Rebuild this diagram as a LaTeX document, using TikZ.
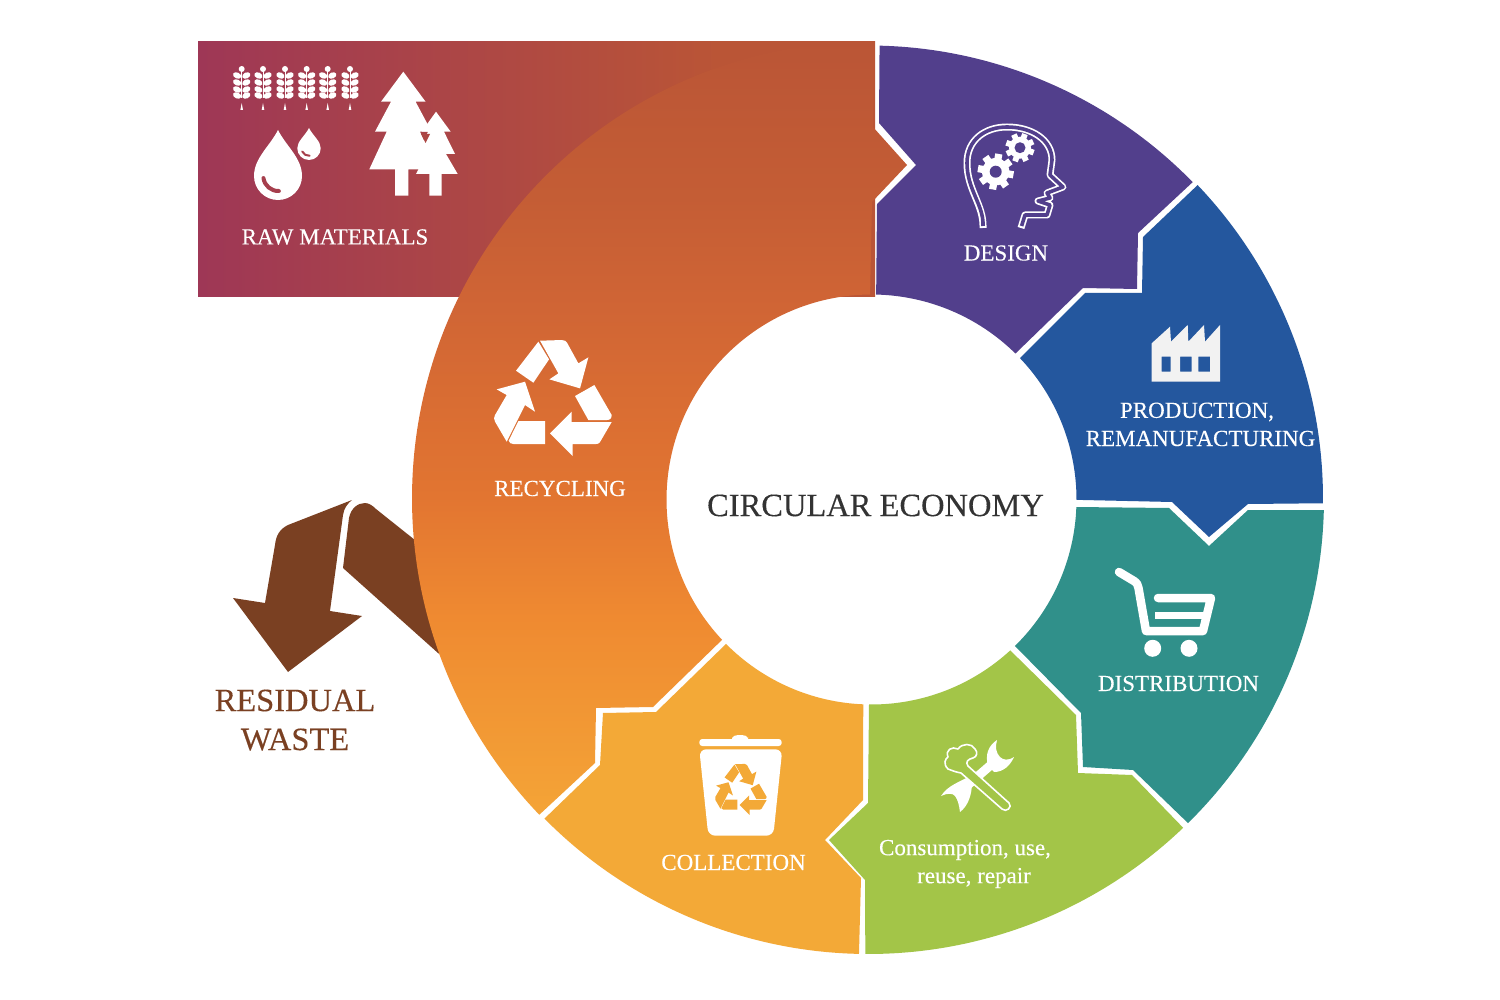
\documentclass[tikz,border=0pt]{standalone}
\usepackage{fontspec}
\setmainfont{Liberation Serif}
\newfontfamily\labfont[FakeBold=0.25]{Liberation Serif}
\usetikzlibrary{calc}
\definecolor{rawL}{HTML}{9E3756}
\definecolor{rawR}{HTML}{BA5536}
\definecolor{recA}{HTML}{BA5536}
\definecolor{recAb}{HTML}{C45D35}
\definecolor{recB}{HTML}{CF6435}
\definecolor{recC}{HTML}{E27531}
\definecolor{recD}{HTML}{EF8A31}
\definecolor{recE}{HTML}{F4A437}
\definecolor{designC}{HTML}{523F8C}
\definecolor{blueC}{HTML}{24579E}
\definecolor{tealC}{HTML}{30908A}
\definecolor{greenC}{HTML}{A3C548}
\definecolor{collC}{HTML}{F3A937}
\definecolor{brownC}{HTML}{7A4022}
\definecolor{inkC}{HTML}{333333}
\pgfdeclareverticalshading{recshade}{100bp}{color(0bp)=(recE);color(25bp)=(recE);color(37.7bp)=(recD);color(45.5bp)=(recC);color(58.4bp)=(recB);color(64.8bp)=(recAb);color(75bp)=(recA);color(100bp)=(recA)}
\pgfdeclarehorizontalshading{rawshade}{100bp}{color(0bp)=(rawL);color(25bp)=(rawL);color(63.5bp)=(rawR);color(100bp)=(rawR)}
\tikzset{
  lab/.style={text=white,font=\labfont\fontsize{23}{27}\selectfont,inner sep=0pt,align=center},
  blab/.style={text=brownC,font=\labfont\fontsize{32.5}{38}\selectfont,inner sep=0pt},
}
\newcommand{\ROut}{456.5pt}
\newcommand{\RIn}{205pt}
\newcommand{\mygear}[5]{%
  \foreach \ga in {0,45,...,135}{\fill[white,shift={(#1,#2)},rotate=\ga+#5] (-#3*0.2,-#3) rectangle (#3*0.2,#3);}
  \fill[white] (#1,#2) circle[radius=#3*0.76];
  \fill[designC] (#1,#2) circle[radius=#4];}
\newcommand{\recsym}[4]{%
  \begin{scope}[shift={(#1,#2)},scale=#3/3,shift={(-248,-233)}]
  \fill[#4] (205,65) -- (237,118) -- (190,188) -- (138,152) -- cycle;
  \fill[#4] (210,62) -- (275,60) .. controls (283,60) and (288,63) .. (291,68) -- (325,130) -- (355,112) -- (330,205) -- (238,178) -- (265,160) -- cycle;
  \fill[#4] (315,228) -- (373,195) -- (425,285) .. controls (425,295) and (420,300) .. (410,300) -- (355,300) -- cycle;
  \fill[#4] (425,306) -- (390,366) .. controls (387,371) and (383,372) .. (378,372) -- (308,372) -- (308,408) -- (240,340) -- (305,275) -- (305,306) -- cycle;
  \fill[#4] (145,303) -- (225,303) -- (225,372) -- (130,372) .. controls (122,372) and (118,368) .. (116,362) -- cycle;
  \fill[#4] (110,365) -- (75,305) .. controls (71,297) and (71,292) .. (75,285) -- (110,225) -- (80,208) -- (165,185) -- (195,275) -- (165,255) -- cycle;
  \end{scope}}
\begin{document}
\begin{tikzpicture}[yscale=-1,x=1pt,y=1pt]
\useasboundingbox (0,0) rectangle (1500,1000);
\fill[white] (0,0) rectangle (1500,1000);
\coordinate (O) at (868.5,498.5);
\coordinate (I) at (871.5,499.5);
% raw materials panel
\shade[shading=rawshade] (198,42) rectangle (875,297);
% residual waste band and arrow
\fill[brownC] (343,568) -- (349,518) .. controls (351,508) and (358,503) .. (365,503) .. controls (369,503) and (373,506) .. (376,509) -- (440,560) -- (450,662) -- (438,653) -- cycle;
\fill[brownC] (352,500) -- (288,525) .. controls (280,529) and (276,535) .. (275,545) -- (265,603) -- (233,598) -- (288,672) -- (362,616) -- (330,611) -- (343,515) .. controls (344,508) and (348,503) .. (352,500) -- cycle;
% recycling
\shade[shading=recshade] ($(O)+(270.7:\ROut)$) arc[start angle=270.7,end angle=136.15,radius=\ROut] -- (595,763) -- (596,708) -- (653,707) -- ($(I)+(136.8:\RIn)$) arc[start angle=136.8,end angle=269.6,radius=\RIn] -- (872,202) -- (907,165) -- (873,127) -- cycle;
% design
\fill[designC] ($(O)+(-88.6:453pt)$) arc[start angle=-88.6,end angle=-44.3,radius=453pt] -- (1138,233) -- (1137,289) -- (1083,288) -- ($(I)+(-45.4:\RIn)$) arc[start angle=-45.4,end angle=-88.7,radius=\RIn] -- (877,204) -- (916,165) -- (879,123) -- cycle;
% production
\fill[blueC] ($(O)+(-43.6:454.5pt)$) arc[start angle=-43.6,end angle=0.6,radius=454.5pt] -- (1248,504) -- (1209,537) -- (1172,502) -- ($(I)+(0.1:\RIn)$) arc[start angle=0.1,end angle=-43.6,radius=\RIn] -- (1085,293) -- (1142,293) -- (1143,237) -- cycle;
% distribution
\fill[tealC] ($(O)+(1.45:455.5pt)$) arc[start angle=1.45,end angle=45.45,radius=455.5pt] -- (1133,770) -- (1083,767) -- (1081,713) -- ($(I)+(45.6:\RIn)$) arc[start angle=45.6,end angle=2.1,radius=\RIn] -- (1169,508) -- (1209,546) -- (1248,510) -- cycle;
% consumption
\fill[greenC] ($(O)+(46.3:455.5pt)$) arc[start angle=46.3,end angle=90.4,radius=455.5pt] -- (865,880) -- (829,840) -- (868,803) -- ($(I)+(90.7:\RIn)$) arc[start angle=90.7,end angle=47.4,radius=\RIn] -- (1076,715) -- (1078,773) -- (1132,775) -- cycle;
% collection
\fill[collC] ($(O)+(91.2:455.5pt)$) arc[start angle=91.2,end angle=135.35,radius=455.5pt] -- (600,765) -- (603,713) -- (656,712) -- ($(I)+(135.2:\RIn)$) arc[start angle=135.2,end angle=92.3,radius=\RIn] -- (863,800) -- (825,840) -- (861,878) -- (859,953) -- cycle;
% wheat
\foreach \wx in {241.7,263,285,306.7,327.7,350}{
  \fill[white] (\wx,69) circle[radius=3];
  \draw[white,line width=1pt] (\wx,70) -- (\wx,98);
  \foreach \wy in {75.5,82.5,89.5,95.5}{
    \fill[white,shift={(\wx-4.6,\wy)},rotate=25] (0,0) ellipse[x radius=4.3,y radius=3];
    \fill[white,shift={(\wx+4.6,\wy)},rotate=-25] (0,0) ellipse[x radius=4.3,y radius=3];
  }
  \fill[white] (\wx-1.3,110) -- (\wx,103) -- (\wx+1.3,110) -- cycle;
}
% drops
\fill[white] (278,130) .. controls (270,146) and (254,158) .. (254,176) arc[start angle=180,end angle=0,radius=24] .. controls (302,158) and (286,146) .. (278,130) -- cycle;
\draw[rawL!72!rawR,line width=4pt,line cap=round] (278.3,176) ++(172:15) arc[start angle=172,end angle=88,radius=15];
\fill[white] (309,128) .. controls (305,136) and (297.3,141) .. (297.3,148.3) arc[start angle=180,end angle=0,radius=11.7] .. controls (320.7,141) and (313,136) .. (309,128) -- cycle;
\draw[rawL!70!rawR,line width=2pt,line cap=round] (309,148.3) ++(155:7.5) arc[start angle=155,end angle=85,radius=7.5];
% trees
\fill[white] (403.3,71.7) -- (425.6,101.7) -- (415.6,101.7) -- (431.6,131.7) -- (420,131.7) -- (437.3,169.3) -- (408.3,169.3) -- (408.3,195.7) -- (395,195.7) -- (395,169.3) -- (369.3,169.3) -- (386.7,131.7) -- (375,131.7) -- (391,101.7) -- (381,101.7) -- cycle;
\fill[white] (436,111.7) -- (450.7,131.7) -- (444,131.7) -- (455,154) -- (446,154) -- (457.7,174) -- (441.7,174) -- (441.7,195.7) -- (429.3,195.7) -- (429.3,174) -- (416,174) -- (426,154) -- (418,154) -- (428,131.7) -- (421.7,131.7) -- cycle;
\fill[rawL!45!rawR] (421,134) -- (430,134) -- (425.5,143) -- cycle;
% head
\draw[white,line width=7pt,line join=round] (983,228) .. controls (984,205) and (967,190) .. (967,163) .. controls (967,140) and (985,127) .. (1007,127) .. controls (1032,127) and (1052,140) .. (1052,160) -- (1050,175) -- (1063,187) -- (1047,193) -- (1050,198) -- (1038,201) -- (1050,205) -- (1047,215) -- (1025,215) -- (1021,228);
\draw[designC,line width=3.6pt,line join=round] (983,226) .. controls (984,205) and (967,190) .. (967,163) .. controls (967,140) and (985,127) .. (1007,127) .. controls (1032,127) and (1052,140) .. (1052,160) -- (1050,175) -- (1063,187) -- (1047,193) -- (1050,198) -- (1038,201) -- (1050,205) -- (1047,215) -- (1025,215) -- (1021.6,226);
\mygear{995.7}{171.7}{18}{6}{10}
\mygear{1020}{147.7}{14.5}{5.5}{20}
% factory
\fill[white!95!black,even odd rule] (1151.7,381.7) -- (1220,381.7) -- (1220,325) -- (1205,341.7) -- (1204,325) -- (1188.3,341.7) -- (1187.7,325) -- (1171,341.7) -- (1170,326.7) -- (1151.7,343.3) -- cycle
 (1161.7,356.7) rectangle (1170.7,371.7) (1180,356.7) rectangle (1191.7,371.7) (1198.3,356.7) rectangle (1210,371.7);
% cart
\draw[white,line width=8.5pt,line cap=round,line join=round] (1119,572) -- (1134,581) .. controls (1137,583) and (1138,585) .. (1138.5,588) -- (1146,631) -- (1203,631) -- (1211,598) -- (1158,598);
\draw[white,line width=7.5pt] (1155,615.5) -- (1205,615.5);
\fill[white] (1152.7,648.3) circle[radius=8.5] (1189,648.3) circle[radius=8.5];
% tools
\draw[white,line width=9pt] (962,790) -- (992,764);
\fill[white] (997,740) .. controls (988,746) and (985,755) .. (988,766) -- (994,772) .. controls (1003,772) and (1010,766) .. (1014,757) .. controls (1008,761) and (1003,760) .. (1000,757) .. controls (996,753) and (995,747) .. (997,740) -- cycle;
\fill[white] (970,776) .. controls (960,782) and (948,785) .. (941,796) .. controls (947,793) and (953,793) .. (955,796) .. controls (958,800) and (959,805) .. (960,812) .. controls (968,806) and (972,795) .. (972,782) -- cycle;
\draw[white,line width=1.6pt,fill=greenC,line join=round] (968,766) -- (1009,803) .. controls (1013,807) and (1006,813) .. (1002,809) -- (961,773) .. controls (955,772) and (951,770) .. (948,769) .. controls (943,764) and (945,759) .. (948,757) .. controls (945,750) and (952,746) .. (958,749) .. controls (962,743) and (972,743) .. (975,749) .. controls (978,752) and (977,757) .. (973,758) .. controls (968,759) and (965,762) .. (968,766) -- cycle;
% bin
\fill[white,rounded corners=3pt] (699.3,739) rectangle (781.7,746);
\fill[white,rounded corners=3pt] (732,740) -- (732,737) -- (736,735) -- (744,735) -- (748,737) -- (748,740) -- cycle;
\fill[white,rounded corners=7pt] (699.3,749.3) -- (782.3,749.3) -- (773.3,835.7) -- (708.3,835.7) -- cycle;
\recsym{740.7}{789.3}{0.44}{collC}
% recycling symbol
\recsym{552.7}{397.7}{1}{white}
% text
\node[inner sep=0pt,text=inkC,font=\labfont\fontsize{32.5}{38}\selectfont] (tCE) at (875.5,505.5) {CIRCULAR ECONOMY};
\node[lab] (tRaw) at (335,237) {RAW MATERIALS};
\node[lab] (tDes) at (1006,253) {DESIGN};
\node[lab] (tPro) at (1197,412) {PRODUCTION,};
\node[lab] (tRem) at (1200.5,438.5) {REMANUFACTURING};
\node[lab] (tDis) at (1178.5,683.5) {DISTRIBUTION};
\node[lab] (tCon) at (965,850) {Consumption, use,};
\node[lab] (tReu) at (974,878) {reuse, repair};
\node[lab] (tCol) at (733.5,862.5) {COLLECTION};
\node[lab] (tRec) at (560,488.5) {RECYCLING};
\node[blab] (tRes) at (295,700.5) {RESIDUAL};
\node[blab] (tWas) at (295,739.5) {WASTE};
\end{tikzpicture}
\end{document}
